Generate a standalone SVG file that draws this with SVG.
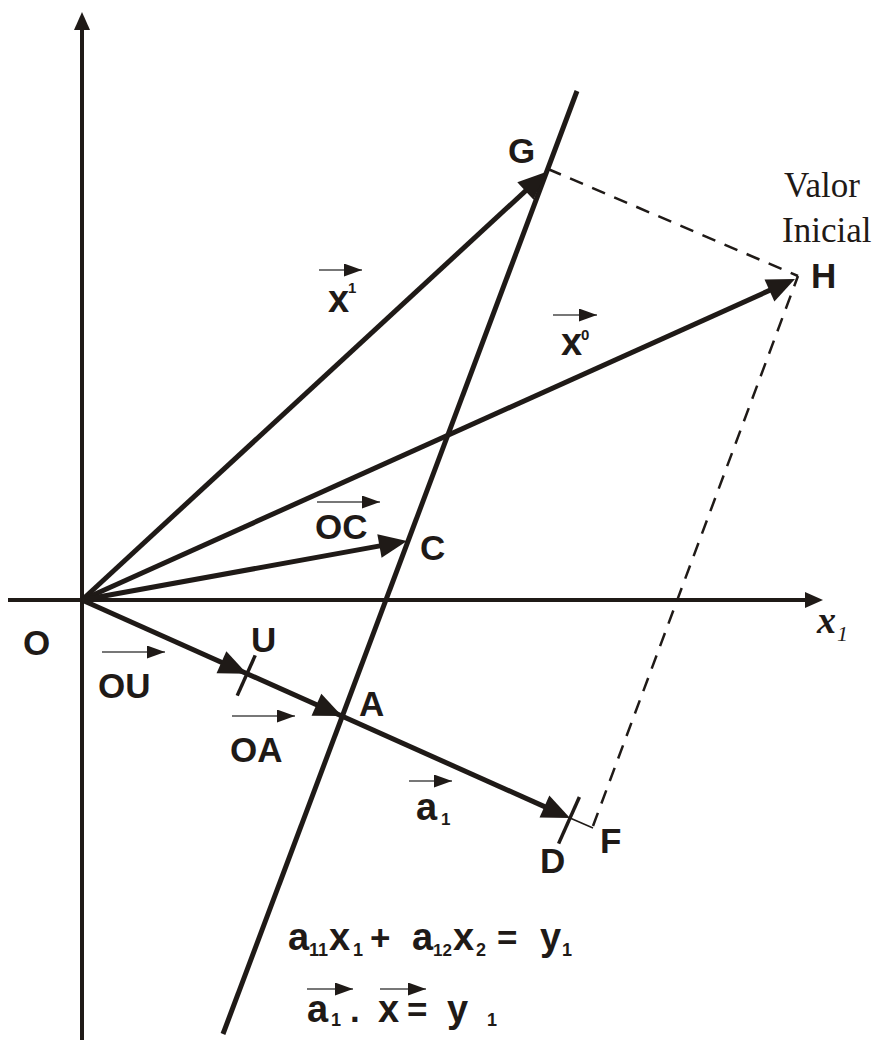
<svg xmlns="http://www.w3.org/2000/svg" width="884" height="1043" viewBox="0 0 884 1043">
<style>
.ax{stroke:#1f1a17;stroke-width:4;fill:none}
.vec{stroke:#1f1a17;stroke-width:5;fill:none}
.dash{stroke:#1f1a17;stroke-width:2.5;fill:none;stroke-dasharray:14 10}
.thin{stroke:#1f1a17;stroke-width:1.5;fill:none}
.tick{stroke:#1f1a17;stroke-width:3.5;fill:none}
.sm{stroke:#4a4a4a;stroke-width:1.6;fill:none;marker-end:url(#sa)}
.b{font-family:"Liberation Sans",Arial,sans-serif;font-weight:bold;font-size:35px;fill:#1f1a17}
.l{font-family:"Liberation Sans",Arial,sans-serif;font-weight:bold;font-size:38px;fill:#1f1a17}
.s{font-family:"Liberation Sans",Arial,sans-serif;font-weight:bold;font-size:18px;fill:#1f1a17}
.t{font-family:"Liberation Serif","Times New Roman",serif;font-size:35px;fill:#1f1a17}
.hd{fill:#1f1a17}
</style>
<defs>
<marker id="sa" markerUnits="userSpaceOnUse" markerWidth="18" markerHeight="13" refX="18" refY="6.5" orient="auto">
<path d="M0,0 L18,6.5 L0,13 Z" fill="#1f1a17"/>
</marker>
<path id="ah" d="M0,0 L-28,-12 L-28,12 Z"/>
</defs>
<rect width="884" height="1043" fill="#ffffff"/>
<g id="connectors">
<g id="axes">
<line class="ax" x1="82" y1="1040" x2="82" y2="25"/>
<path class="hd" d="M82,12 L74,30 L90,30 Z"/>
<line class="ax" x1="8" y1="600" x2="810" y2="600"/>
<path class="hd" d="M823,600 L805,592 L805,608 Z"/>
</g>
<line id="constraint" class="vec" x1="577" y1="91" x2="223" y2="1034"/>
<g id="vec-OG">
<line class="vec" x1="82" y1="600" x2="537.2" y2="180.1"/>
<use href="#ah" class="hd" transform="translate(546,172) rotate(-42.7)"/>
</g>
<g id="vec-OH">
<line class="vec" x1="82" y1="600" x2="784.1" y2="283.9"/>
<use href="#ah" class="hd" transform="translate(795,279) rotate(-24.2)"/>
</g>
<g id="vec-OC">
<line class="vec" x1="82" y1="600" x2="395.2" y2="543.1"/>
<use href="#ah" class="hd" transform="translate(407,541) rotate(-10.3)"/>
</g>
<g id="vec-OD">
<line class="vec" x1="82" y1="600" x2="559" y2="813.1"/>
<use href="#ah" class="hd" transform="translate(247,673.7) rotate(24.07)"/>
<use href="#ah" class="hd" transform="translate(342,716.1) rotate(24.07)"/>
<use href="#ah" class="hd" transform="translate(570,818) rotate(24.07)"/>
<line class="tick" x1="255.2" y1="655.4" x2="237.2" y2="695.6"/>
<line class="tick" x1="579.4" y1="797" x2="558.6" y2="843.6"/>
</g>
<line class="thin" x1="570" y1="818" x2="593" y2="828"/>
<line class="dash" x1="593" y1="826" x2="798" y2="276"/>
<line class="dash" x1="548" y1="169" x2="798" y2="276"/>
</g>
<g id="node-G"><text class="b" x="508" y="163">G</text></g>
<g id="node-H"><text class="b" x="811" y="288">H</text>
<text class="t" x="784" y="197">Valor</text>
<text class="t" x="782" y="242">Inicial</text></g>
<g id="node-C"><text class="b" x="420" y="560">C</text>
<line class="sm" x1="317" y1="502" x2="380" y2="502"/>
<text class="b" x="315" y="539">OC</text></g>
<g id="node-O"><text class="b" x="23" y="655">O</text></g>
<g id="node-U"><text class="b" x="251" y="652">U</text>
<line class="sm" x1="102" y1="652" x2="165" y2="652"/>
<text class="b" x="98" y="698">OU</text></g>
<g id="node-A"><text class="b" x="359" y="716">A</text>
<line class="sm" x1="232" y1="716" x2="295" y2="716"/>
<text class="b" x="230" y="762">OA</text></g>
<g id="node-D"><text class="b" x="540" y="873">D</text></g>
<g id="node-F"><text class="b" x="600" y="853">F</text></g>
<g id="label-a1">
<line class="sm" x1="409" y1="781" x2="452" y2="781"/>
<text class="l" x="416" y="820">a</text>
<text class="s" x="441" y="825" style="font-size:17px">1</text>
</g>
<g id="label-x1">
<line class="sm" x1="319" y1="270" x2="362" y2="270"/>
<text class="l" x="328" y="312">x</text>
<text class="s" x="348" y="293" style="font-size:15px">1</text>
</g>
<g id="label-x0">
<line class="sm" x1="553" y1="315" x2="597" y2="315"/>
<text class="l" x="561" y="355">x</text>
<text class="s" x="581" y="340" style="font-size:15px">0</text>
</g>
<g id="axis-label">
<text x="817" y="633" style="font-family:'Liberation Serif','Times New Roman',serif;font-style:italic;font-weight:bold;font-size:38px;fill:#1f1a17">x</text>
<text x="837" y="641" style="font-family:'Liberation Serif','Times New Roman',serif;font-style:italic;font-size:22px;fill:#1f1a17">1</text>
</g>
<g id="equation1">
<text class="l" x="288" y="950">a</text>
<text class="s" x="309" y="956">11</text>
<text class="l" x="329" y="950">x</text>
<text class="s" x="353" y="956">1</text>
<text class="b" x="370" y="950">+</text>
<text class="l" x="412" y="950">a</text>
<text class="s" x="433" y="956" style="font-size:17px">12</text>
<text class="l" x="453" y="950">x</text>
<text class="s" x="476" y="956">2</text>
<text class="b" x="497" y="950">=</text>
<text class="l" x="540" y="950">y</text>
<text class="s" x="562" y="956">1</text>
</g>
<g id="equation2">
<line class="sm" x1="307" y1="989" x2="353" y2="989"/>
<line class="sm" x1="380" y1="989" x2="426" y2="989"/>
<text class="l" x="307" y="1022">a</text>
<text class="s" x="331" y="1026">1</text>
<text class="b" x="350" y="1022">.</text>
<text class="l" x="378" y="1022">x</text>
<text class="b" x="407" y="1022">=</text>
<text class="l" x="447" y="1022">y</text>
<text class="s" x="487" y="1026">1</text>
</g>
</svg>
